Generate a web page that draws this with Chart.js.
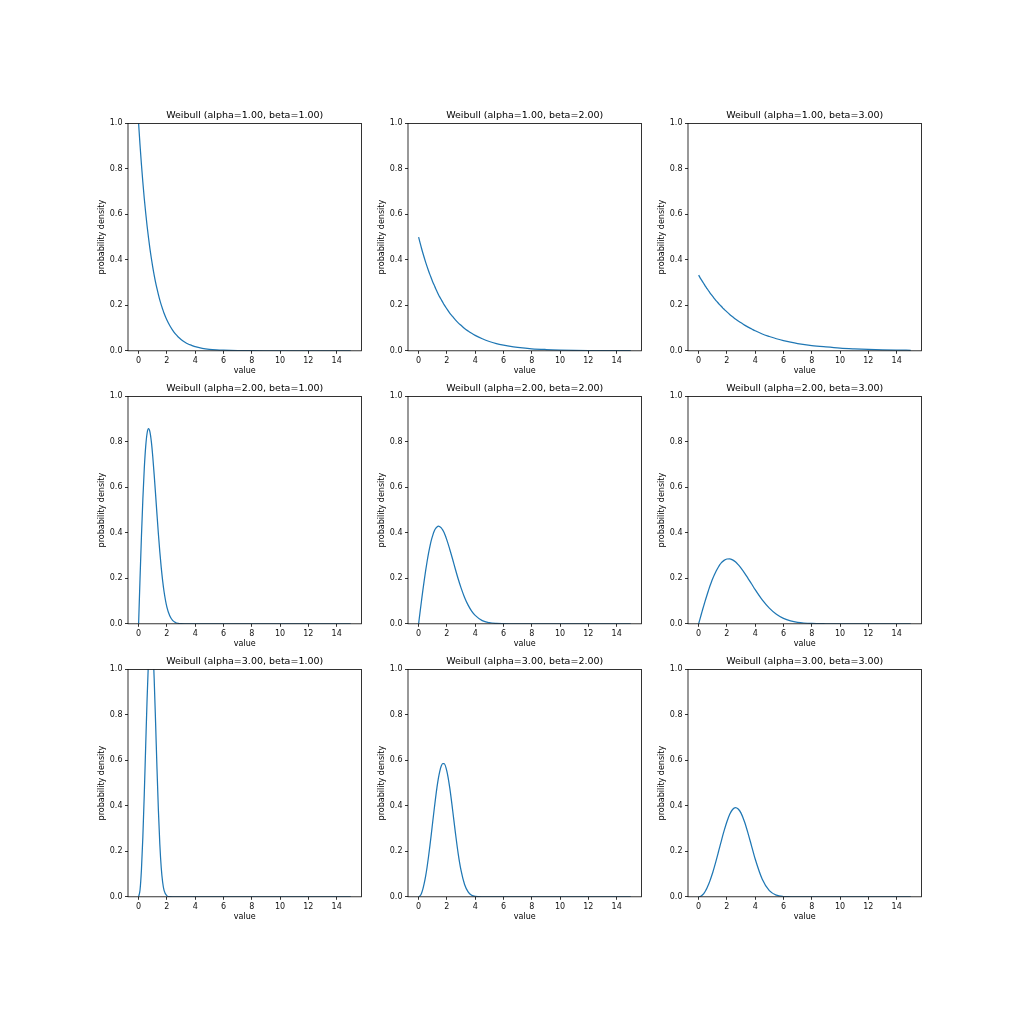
<!DOCTYPE html>
<html><head><meta charset="utf-8">
<script src="https://cdn.jsdelivr.net/npm/chart.js@4.4.0/dist/chart.umd.min.js"></script>
<style>
html,body{margin:0;padding:0;background:#fff;}
#fig{position:relative;width:1024px;height:1024px;overflow:hidden;background:#fff;}
.cell{position:absolute;}
canvas{display:block;}
</style></head><body><div id="fig"></div>
<script>
// ---- data ----
const X = [0,0.1,0.2,0.3,0.4,0.5,0.6,0.7,0.8,0.9,1.0,1.1,1.2,1.3,1.4,1.5,1.6,1.7,1.8,2.0,2.2,2.4,2.6,2.8,3.0,3.25,3.5,3.75,4.0,4.5,5.0,5.5,6.0,6.5,7,8,9,10,11,12,13,14,15];

const Y_A1_B1 = [1.000,0.905,0.819,0.741,0.670,0.607,0.549,0.497,0.449,0.407,0.368,0.333,0.301,0.273,0.247,0.223,0.202,0.183,0.165,0.135,0.111,0.091,0.074,0.061,0.050,0.039,0.030,0.024,0.018,0.011,0.0067,0.0041,0.0025,0.0015,0.0009,0.0003,0.0001,0,0,0,0,0,0];
const Y_A1_B2 = [0.500,0.476,0.452,0.430,0.409,0.389,0.370,0.352,0.335,0.319,0.303,0.289,0.274,0.261,0.248,0.236,0.225,0.214,0.203,0.184,0.166,0.151,0.136,0.123,0.112,0.098,0.087,0.077,0.068,0.053,0.041,0.032,0.025,0.019,0.015,0.009,0.0056,0.0034,0.0020,0.0012,0.0008,0.0005,0.0003];
const Y_A1_B3 = [0.333,0.322,0.312,0.302,0.292,0.282,0.273,0.264,0.255,0.247,0.239,0.231,0.223,0.216,0.209,0.202,0.196,0.189,0.183,0.171,0.160,0.150,0.140,0.131,0.123,0.113,0.104,0.096,0.088,0.074,0.063,0.053,0.045,0.038,0.032,0.023,0.017,0.012,0.0087,0.0061,0.0043,0.0031,0.0022];
const Y_A2_B1 = [0,0.198,0.384,0.548,0.682,0.779,0.838,0.858,0.844,0.801,0.736,0.656,0.569,0.480,0.394,0.316,0.247,0.189,0.141,0.073,0.035,0.015,0.006,0.0022,0.0007,0.0001,0,0,0,0,0,0,0,0,0,0,0,0,0,0,0,0,0];
const Y_A2_B2 = [0,0.050,0.099,0.147,0.192,0.235,0.274,0.310,0.341,0.368,0.389,0.407,0.419,0.426,0.429,0.427,0.422,0.413,0.401,0.368,0.328,0.285,0.240,0.197,0.158,0.116,0.082,0.056,0.037,0.014,0.0048,0.0014,0.0004,0.0001,0,0,0,0,0,0,0,0,0];
const Y_A2_B3 = [0,0.022,0.044,0.066,0.087,0.108,0.128,0.147,0.166,0.183,0.199,0.214,0.227,0.239,0.250,0.260,0.268,0.274,0.279,0.285,0.286,0.281,0.273,0.260,0.245,0.223,0.199,0.175,0.150,0.105,0.069,0.042,0.024,0.013,0.0067,0.0014,0.0002,0,0,0,0,0,0];
const Y_A3_B1 = [0,0.030,0.119,0.263,0.450,0.662,0.870,1.043,1.151,1.172,1.104,0.959,0.767,0.563,0.378,0.231,0.128,0.064,0.0285,0.004,0.0003,0,0,0,0,0,0,0,0,0,0,0,0,0,0,0,0,0,0,0,0,0,0];
const Y_A3_B2 = [0,0.0037,0.015,0.034,0.060,0.092,0.131,0.176,0.225,0.277,0.331,0.384,0.435,0.482,0.522,0.553,0.575,0.586,0.586,0.552,0.480,0.384,0.282,0.189,0.116,0.054,0.022,0.0072,0.002,0.0001,0,0,0,0,0,0,0,0,0,0,0,0,0];
const Y_A3_B3 = [0,0.0011,0.0044,0.010,0.0177,0.0276,0.040,0.054,0.070,0.088,0.107,0.128,0.150,0.173,0.197,0.221,0.244,0.268,0.290,0.330,0.363,0.384,0.392,0.386,0.368,0.329,0.278,0.222,0.166,0.077,0.027,0.0071,0.0013,0.0002,0,0,0,0,0,0,0,0,0];

const ALPHAS = [1, 2, 3];
const BETAS = [1, 2, 3];
const SERIES = [
  [Y_A1_B1, Y_A1_B2, Y_A1_B3],
  [Y_A2_B1, Y_A2_B2, Y_A2_B3],
  [Y_A3_B1, Y_A3_B2, Y_A3_B3]
];
const X_TICKS = [0, 2, 4, 6, 8, 10, 12, 14];
const Y_TICKS = [0, 0.2, 0.4, 0.6, 0.8, 1.0];
const X_MIN = -0.75, X_MAX = 15.75, Y_MIN = 0, Y_MAX = 1;
const X_LABEL = 'value';
const Y_LABEL = 'probability density';

// ---- layout / style ----
const COL_LEFT = [128, 408.1, 688.2];
const ROW_TOP = [123, 396, 669];
const PLOT_W = 233.4, PLOT_H = 227.4;
const Y_AXIS_W = 31, X_AXIS_H = 25.3;
const CANVAS_W = 276, CANVAS_H = 272;
const FONT = '"DejaVu Sans", Verdana, sans-serif';
const LINE_COLOR = '#1f77b4';

const boxPlugin = {
  id: 'box',
  afterDatasetsDraw(chart) {
    const {ctx, chartArea: a} = chart;
    ctx.save();
    ctx.strokeStyle = '#000';
    ctx.lineWidth = 0.8;
    ctx.strokeRect(a.left, a.top, a.right - a.left, a.bottom - a.top);
    ctx.restore();
  }
};

const fig = document.getElementById('fig');
const TITLE_PAD_TOP = 4, TITLE_PAD_BOTTOM = 2, TITLE_SIZE = 9.5;
const titleH = TITLE_SIZE * 1.2 + TITLE_PAD_TOP + TITLE_PAD_BOTTOM;

for (let r = 0; r < 3; r++) {
  for (let c = 0; c < 3; c++) {
    const cell = document.createElement('div');
    cell.className = 'cell';
    cell.style.left = (COL_LEFT[c] - Y_AXIS_W) + 'px';
    cell.style.top = (ROW_TOP[r] - titleH) + 'px';
    const cv = document.createElement('canvas');
    cv.width = CANVAS_W; cv.height = CANVAS_H;
    cv.style.width = CANVAS_W + 'px'; cv.style.height = CANVAS_H + 'px';
    cell.appendChild(cv);
    fig.appendChild(cell);

    const ys = SERIES[r][c];
    const title = 'Weibull (alpha=' + ALPHAS[r].toFixed(2) + ', beta=' + BETAS[c].toFixed(2) + ')';

    const chart = new Chart(cv, {
      type: 'line',
      data: {
        datasets: [{
          data: X.map((x, i) => ({x: x, y: ys[i]})),
          borderColor: LINE_COLOR,
          borderWidth: 1.25,
          pointRadius: 0,
          fill: false,
          cubicInterpolationMode: 'monotone'
        }]
      },
      options: {
        responsive: false,
        animation: false,
        devicePixelRatio: 1,
        layout: {
          padding: {
            left: 0, top: 0,
            right: CANVAS_W - Y_AXIS_W - PLOT_W,
            bottom: CANVAS_H - titleH - PLOT_H - X_AXIS_H
          }
        },
        plugins: {
          legend: {display: false},
          tooltip: {enabled: false},
          title: {
            display: true,
            fullSize: false,
            text: title,
            color: '#000',
            font: {family: FONT, size: TITLE_SIZE, weight: 'normal'},
            padding: {top: TITLE_PAD_TOP, bottom: TITLE_PAD_BOTTOM}
          }
        },
        scales: {
          x: {
            type: 'linear',
            min: X_MIN, max: X_MAX,
            afterBuildTicks: s => { s.ticks = X_TICKS.map(v => ({value: v})); },
            afterFit: s => { s.height = X_AXIS_H; },
            grid: {drawOnChartArea: false, drawTicks: true, tickLength: 3, color: '#000', lineWidth: 0.8},
            border: {display: false},
            ticks: {color: '#111', font: {family: FONT, size: 8}, padding: 2, maxRotation: 0, autoSkip: false,
                    callback: v => String(v)},
            title: {display: true, text: X_LABEL, color: '#000', font: {family: FONT, size: 8}, padding: {top: 0, bottom: 0}}
          },
          y: {
            type: 'linear',
            min: Y_MIN, max: Y_MAX,
            afterBuildTicks: s => { s.ticks = Y_TICKS.map(v => ({value: v})); },
            afterFit: s => { s.width = Y_AXIS_W; },
            grid: {drawOnChartArea: false, drawTicks: true, tickLength: 3, color: '#000', lineWidth: 0.8},
            border: {display: false},
            ticks: {color: '#111', font: {family: FONT, size: 8}, padding: 2.5, autoSkip: false,
                    callback: v => Number(v).toFixed(1)},
            title: {display: true, text: Y_LABEL, color: '#000', font: {family: FONT, size: 8}, padding: {top: 0, bottom: 0}}
          }
        }
      },
      plugins: [boxPlugin]
    });
    // align plot area exactly with the target position
    const a = chart.chartArea;
    cell.style.left = (COL_LEFT[c] - a.left) + 'px';
    cell.style.top = (ROW_TOP[r] - a.top) + 'px';
  }
}
</script></body></html>
